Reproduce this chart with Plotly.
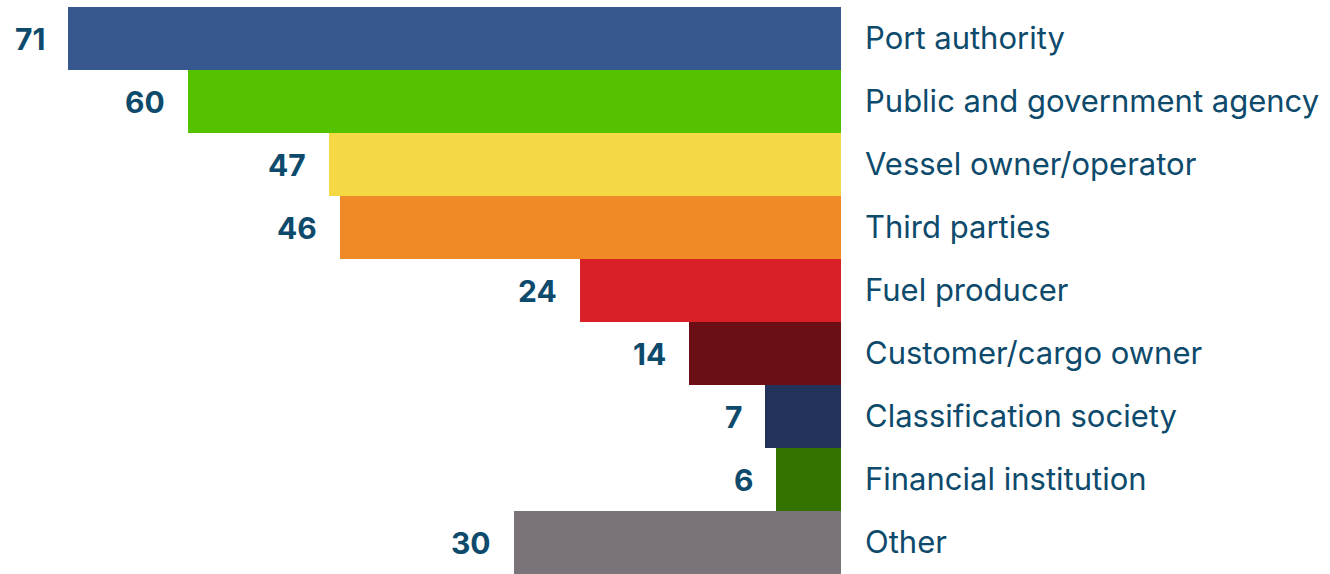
import plotly.graph_objects as go

categories = ["Port authority", "Public and government agency", "Vessel owner/operator",
              "Third parties", "Fuel producer", "Customer/cargo owner",
              "Classification society", "Financial institution", "Other"]
values = [71, 60, 47, 46, 24, 14, 7, 6, 30]
colors = ["#37578f", "#55c200", "#f4d944", "#ef8a26", "#d82026",
          "#6b0f14", "#22325a", "#347300", "#7a7379"]
text_color = "#0d4a6b"
font_family = "Inter, Open Sans, sans-serif"

fig = go.Figure()
fig.add_trace(go.Bar(
    y=categories, x=values, orientation="h",
    marker=dict(color=colors, line=dict(width=0)),
    hoverinfo="skip",
))

for c, v in zip(categories, values):
    fig.add_annotation(x=v, y=c, xref="x", yref="y", text=f"<b>{v}</b>",
                       showarrow=False, xanchor="right", xshift=-21,
                       font=dict(size=30, color=text_color, family=font_family))

fig.update_layout(
    width=1330, height=574,
    margin=dict(l=0, r=489, t=7, b=0),
    paper_bgcolor="white", plot_bgcolor="white",
    bargap=0, showlegend=False,
)
fig.update_xaxes(range=[841 / 10.887, 0], visible=False, fixedrange=True)
fig.update_yaxes(autorange="reversed", side="right", showgrid=False, zeroline=False,
                 showline=False, ticks="", ticklabelstandoff=23,
                 tickfont=dict(size=31, color=text_color, family=font_family))

fig.write_html("out.html")
